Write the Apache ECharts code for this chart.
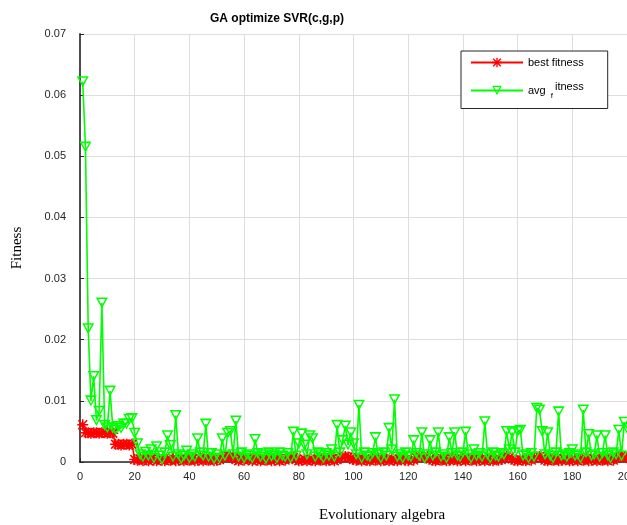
<!DOCTYPE html>
<html>
<head>
<meta charset="utf-8">
<script src="https://cdn.jsdelivr.net/npm/echarts@6/dist/echarts.min.js"></script>
<style>
	html, body { margin: 0; padding: 0; background: #fff; }
	#main { width: 627px; height: 525px; }
</style>
</head>
<body>
<div id="main"></div>
<script>
// x axis: generations 0..200, y axis: fitness 0..0.07
var xMax = 200, xStep = 20;
var yMax = 0.07, yStep = 0.01;
var seriesNames = ['best fitness', 'avg fitness'];

// best fitness per generation (1..200)
var bestFitness = [
	0.0061, 0.0048, 0.0048, 0.0047, 0.0048, 0.0048, 0.0047, 0.0048, 0.0048, 0.0047,
	0.0048, 0.0047, 0.0029, 0.0029, 0.0028, 0.0029, 0.0029, 0.0028, 0.0029, 0.0004,
	0.0003, 0.0005, 0.0002, 0.0004, 0.0002, 0.0006, 0.0003, 0.0002, 0.0005, 0.0003,
	0.0002, 0.0004, 0.0003, 0.0006, 0.0002, 0.0003, 0.0005, 0.0002, 0.0004, 0.0003,
	0.0005, 0.0002, 0.0003, 0.0006, 0.0002, 0.0004, 0.0003, 0.0005, 0.0002, 0.0003,
	0.0004, 0.0007, 0.0009, 0.0008, 0.0009, 0.0007, 0.0004, 0.0002, 0.0005, 0.0003,
	0.0006, 0.0004, 0.0002, 0.0005, 0.0003, 0.0002, 0.0004, 0.0003, 0.0005, 0.0002,
	0.0003, 0.0005, 0.0002, 0.0004, 0.0003, 0.0006, 0.0008, 0.0007, 0.0004, 0.0002,
	0.0003, 0.0005, 0.0002, 0.0004, 0.0003, 0.0002, 0.0005, 0.0003, 0.0004, 0.0002,
	0.0003, 0.0005, 0.0002, 0.0004, 0.0006, 0.0008, 0.0009, 0.0008, 0.0007, 0.0004,
	0.0003, 0.0005, 0.0002, 0.0004, 0.0003, 0.0002, 0.0005, 0.0003, 0.0006, 0.0002,
	0.0003, 0.0004, 0.0002, 0.0005, 0.0003, 0.0002, 0.0004, 0.0006, 0.0003, 0.0002,
	0.0005, 0.0003, 0.0007, 0.0009, 0.0008, 0.0007, 0.0009, 0.0005, 0.0003, 0.0002,
	0.0004, 0.0003, 0.0005, 0.0002, 0.0003, 0.0006, 0.0004, 0.0002, 0.0003, 0.0005,
	0.0002, 0.0004, 0.0003, 0.0006, 0.0002, 0.0003, 0.0005, 0.0002, 0.0004, 0.0003,
	0.0002, 0.0005, 0.0003, 0.0004, 0.0008, 0.0009, 0.0008, 0.0005, 0.0003, 0.0002,
	0.0004, 0.0003, 0.0002, 0.0005, 0.0003, 0.0006, 0.0008, 0.0009, 0.0006, 0.0003,
	0.0002, 0.0004, 0.0003, 0.0005, 0.0002, 0.0003, 0.0006, 0.0004, 0.0002, 0.0003,
	0.0005, 0.0002, 0.0004, 0.0003, 0.0006, 0.0002, 0.0003, 0.0005, 0.0002, 0.0004,
	0.0003, 0.0005, 0.0002, 0.0004, 0.0003, 0.0006, 0.0008, 0.0009, 0.0008, 0.0007
];

// average fitness per generation (1..200)
var avgFitness = [
	0.0622, 0.0515, 0.0218, 0.0100, 0.0140, 0.0068, 0.0083, 0.0260, 0.0060, 0.0056,
	0.0116, 0.0055, 0.0052, 0.0058, 0.0055, 0.0062, 0.0062, 0.0070, 0.0071, 0.0047,
	0.0030, 0.0012, 0.0008, 0.0016, 0.0010, 0.0020, 0.0006, 0.0025, 0.0010, 0.0004,
	0.0015, 0.0043, 0.0027, 0.0008, 0.0076, 0.0012, 0.0005, 0.0010, 0.0018, 0.0006,
	0.0012, 0.0008, 0.0038, 0.0015, 0.0010, 0.0062, 0.0008, 0.0014, 0.0005, 0.0012,
	0.0006, 0.0038, 0.0010, 0.0047, 0.0050, 0.0012, 0.0067, 0.0008, 0.0015, 0.0006,
	0.0012, 0.0010, 0.0006, 0.0037, 0.0014, 0.0008, 0.0012, 0.0005, 0.0015, 0.0009,
	0.0012, 0.0006, 0.0015, 0.0010, 0.0008, 0.0014, 0.0006, 0.0049, 0.0010, 0.0030,
	0.0046, 0.0028, 0.0012, 0.0043, 0.0038, 0.0008, 0.0015, 0.0012, 0.0006, 0.0014,
	0.0010, 0.0020, 0.0008, 0.0060, 0.0015, 0.0035, 0.0059, 0.0028, 0.0048, 0.0030,
	0.0012, 0.0093, 0.0006, 0.0015, 0.0010, 0.0008, 0.0014, 0.0040, 0.0012, 0.0006,
	0.0015, 0.0010, 0.0055, 0.0020, 0.0102, 0.0008, 0.0012, 0.0006, 0.0015, 0.0010,
	0.0008, 0.0035, 0.0014, 0.0010, 0.0048, 0.0006, 0.0012, 0.0035, 0.0010, 0.0015,
	0.0048, 0.0008, 0.0012, 0.0006, 0.0040, 0.0014, 0.0048, 0.0010, 0.0008, 0.0015,
	0.0049, 0.0012, 0.0006, 0.0020, 0.0010, 0.0014, 0.0008, 0.0066, 0.0012, 0.0006,
	0.0015, 0.0010, 0.0008, 0.0014, 0.0012, 0.0050, 0.0020, 0.0048, 0.0015, 0.0050,
	0.0052, 0.0010, 0.0012, 0.0006, 0.0014, 0.0008, 0.0088, 0.0085, 0.0050, 0.0012,
	0.0048, 0.0010, 0.0006, 0.0015, 0.0082, 0.0010, 0.0012, 0.0008, 0.0014, 0.0020,
	0.0010, 0.0012, 0.0006, 0.0085, 0.0015, 0.0045, 0.0010, 0.0012, 0.0043, 0.0008,
	0.0014, 0.0043, 0.0010, 0.0006, 0.0015, 0.0012, 0.0052, 0.0010, 0.0065, 0.0055
];

// matlab style markers: '*' and hollow 'v'
var starPath = 'path://M0,4.3H10V5.7H0Z M4.3,0H5.7V10H4.3Z M0.5,1.5L1.5,0.5L9.5,8.5L8.5,9.5Z M8.5,0.5L9.5,1.5L1.5,9.5L0.5,8.5Z';
var triPath = 'path://M0,0L10,0L5,9Z M2.1,1.3L5,6.6L7.9,1.3Z';

function toPairs(arr) {
	var out = [];
	for (var i = 0; i < arr.length; i++) {
		out.push([i + 1, arr[i]]);
	}
	return out;
}

var axisFont = 'Arial, "Liberation Sans", sans-serif';
var serifFont = '"Times New Roman", "Liberation Serif", serif';

var chart = echarts.init(document.getElementById('main'));
var option = {
	animation: false,
	backgroundColor: '#fff',
	title: [{
		text: 'GA optimize SVR(c,g,p)',
		left: 272,
		textAlign: 'center',
		top: 8,
		textStyle: { fontSize: 12, fontWeight: 'bold', color: '#000', fontFamily: axisFont }
	}, {
		text: 'Evolutionary algebra',
		left: 377,
		textAlign: 'center',
		top: 503,
		textStyle: { fontSize: 15, fontWeight: 'normal', color: '#000', fontFamily: serifFont }
	}],
	legend: {
		orient: 'vertical',
		left: 461,
		top: 51,
		padding: [6, 24, 9, 9],
		itemGap: 13,
		itemWidth: 52,
		itemHeight: 12,
		backgroundColor: '#fff',
		borderColor: '#262626',
		borderWidth: 1,
		borderRadius: 0,
		data: seriesNames,
		textStyle: {
			fontSize: 11,
			color: '#000',
			fontFamily: axisFont,
			rich: {
				n: { fontSize: 11, color: '#000', fontFamily: axisFont },
				s: { fontSize: 8, color: '#000', fontFamily: axisFont, padding: [10, 2, 0, 5] },
				u: { fontSize: 11, color: '#000', fontFamily: axisFont, padding: [0, 0, 8, 0] }
			}
		},
		formatter: function (name) {
			if (name == 'avg fitness') {
				return '{n|avg}{s|f}{u|itness}';
			}
			return name;
		}
	},
	grid: {
		left: 80,
		right: 0,
		top: 34,
		bottom: 63,
		outerBoundsMode: 'none',
		containLabel: false
	},
	xAxis: {
		type: 'value',
		min: 0,
		max: xMax,
		interval: xStep,
		axisLine: { show: true, onZero: false, lineStyle: { color: '#262626', width: 1.5 } },
		axisTick: { show: true, inside: true, length: 4, lineStyle: { color: '#262626' } },
		axisLabel: { margin: 9, fontSize: 11, color: '#262626', fontFamily: axisFont },
		splitLine: { show: true, lineStyle: { color: '#dedede', width: 1 } }
	},
	yAxis: {
		type: 'value',
		min: 0,
		max: yMax,
		interval: yStep,
		name: 'Fitness',
		nameLocation: 'middle',
		nameRotate: 90,
		nameGap: 55,
		nameTextStyle: { fontSize: 15, color: '#000', fontFamily: serifFont },
		axisLine: { show: true, lineStyle: { color: '#4d4d4d', width: 2 } },
		axisTick: { show: true, inside: true, length: 4, lineStyle: { color: '#262626' } },
		axisLabel: {
			margin: 14,
			fontSize: 11,
			color: '#262626',
			fontFamily: axisFont,
			formatter: function (v) {
				return v == 0 ? '0' : v.toFixed(2);
			}
		},
		splitLine: { show: true, lineStyle: { color: '#dedede', width: 1 } }
	},
	series: [{
		name: seriesNames[0],
		type: 'line',
		data: toPairs(bestFitness),
		symbol: starPath,
		symbolSize: 11,
		showAllSymbol: true,
		clip: false,
		silent: true,
		lineStyle: { color: '#ff0000', width: 1.5 },
		itemStyle: { color: '#ff0000' },
		emphasis: { disabled: true }
	}, {
		name: seriesNames[1],
		type: 'line',
		data: toPairs(avgFitness),
		symbol: triPath,
		symbolSize: [12, 11],
		showAllSymbol: true,
		clip: false,
		silent: true,
		lineStyle: { color: '#00ff00', width: 1.6 },
		itemStyle: { color: '#00ff00' },
		emphasis: { disabled: true }
	}]
};
chart.setOption(option);
</script>
</body>
</html>
